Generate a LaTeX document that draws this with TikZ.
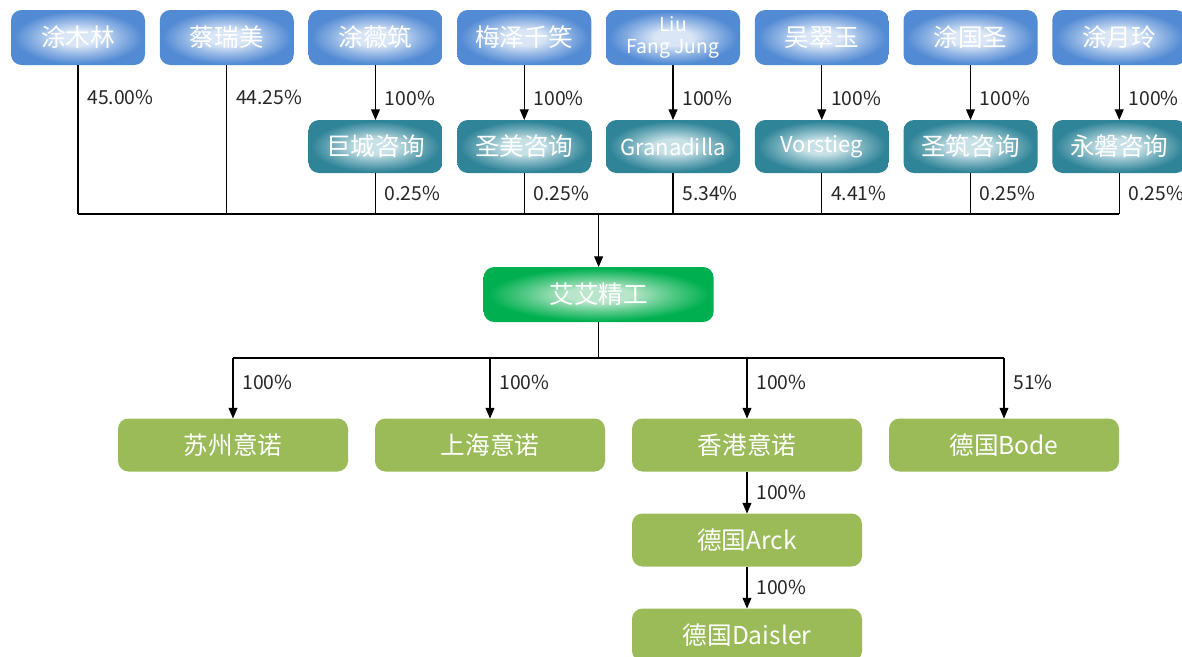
\documentclass[tikz,border=0pt]{standalone}
\usepackage{fontspec}
\setmainfont{Noto Sans CJK SC}
\usepackage{xcolor}
\usepackage{tikz}
\usetikzlibrary{arrows.meta, positioning, calc}
\definecolor{personblue}{RGB}{82,138,212}
\definecolor{personglow}{RGB}{218,230,246}
\colorlet{personmid}{personblue!55!personglow}
\definecolor{holdingteal}{RGB}{47,132,152}
\definecolor{holdingglow}{RGB}{200,225,231}
\colorlet{holdingmid}{holdingteal!55!holdingglow}
\definecolor{companygreen}{RGB}{0,176,80}
\definecolor{companyglow}{RGB}{185,230,202}
\colorlet{companymid}{companygreen!55!companyglow}
\definecolor{subgreen}{RGB}{155,187,89}
\pgfdeclareradialshading{personshade}{\pgfpoint{0bp}{0bp}}{color(0bp)=(personglow); color(7bp)=(personglow); color(16bp)=(personmid); color(24bp)=(personblue); color(75bp)=(personblue)}
\pgfdeclareradialshading{holdingshade}{\pgfpoint{0bp}{0bp}}{color(0bp)=(holdingglow); color(7bp)=(holdingglow); color(16bp)=(holdingmid); color(24bp)=(holdingteal); color(75bp)=(holdingteal)}
\pgfdeclareradialshading{companyshade}{\pgfpoint{0bp}{0bp}}{color(0bp)=(companyglow); color(7bp)=(companyglow); color(16bp)=(companymid); color(24bp)=(companygreen); color(75bp)=(companygreen)}
\tikzstyle{person} = [rectangle, rounded corners=6pt, outer sep=0pt, minimum width=2.68cm, minimum height=1.1cm, align=center, shading=personshade, text=white, font=\fontsize{14}{16}\selectfont]
\tikzstyle{holding} = [rectangle, rounded corners=6pt, outer sep=0pt, minimum width=2.68cm, minimum height=1.06cm, align=center, shading=holdingshade, text=white, font=\fontsize{14}{16}\selectfont]
\tikzstyle{company} = [rectangle, rounded corners=6pt, outer sep=0pt, minimum width=4.6cm, minimum height=1.1cm, align=center, shading=companyshade, text=white, font=\fontsize{14}{16}\selectfont]
\tikzstyle{subsidiary} = [rectangle, rounded corners=6pt, outer sep=0pt, minimum width=4.6cm, minimum height=1.06cm, align=center, fill=subgreen, text=white, font=\fontsize{14}{16}\selectfont]
\tikzstyle{pct} = [right, inner sep=0pt, xshift=5pt, text=black!85, font=\fontsize{11}{13}\selectfont]
\tikzstyle{line} = [line width=0.6pt]
\tikzstyle{arrow} = [line width=0.6pt, ->, >={Triangle[length=6pt, width=5pt]}]
\begin{document}
\begin{tikzpicture}[node distance=1.1cm and 0.295cm]
    \useasboundingbox (0,0) rectangle (23.64,-13.12);
    \node[person] (tuml) at (1.56,-0.75) {涂木林};
    \node[person, right=of tuml] (cairm) {蔡瑞美};
    \node[person, right=of cairm] (tuwz) {涂薇筑};
    \node[person, right=of tuwz] (meizq) {梅泽千笑};
    \node[person, right=of meizq, font=\fontsize{11}{12.5}\selectfont] (liufj) {Liu\\Fang Jung};
    \node[person, right=of liufj] (wucy) {吴翠玉};
    \node[person, right=of wucy] (tugs) {涂国圣};
    \node[person, right=of tugs] (tuyl) {涂月玲};

    \node[holding, below=of tuwz] (jucheng) {巨城咨询};
    \node[holding, below=of meizq] (shengmei) {圣美咨询};
    \node[holding, below=of liufj, font=\fontsize{12.5}{14}\selectfont] (granadilla) {Granadilla};
    \node[holding, below=of wucy, font=\fontsize{12.5}{14}\selectfont] (vorstieg) {Vorstieg};
    \node[holding, below=of tugs] (shengzhu) {圣筑咨询};
    \node[holding, below=of tuyl] (yongpan) {永磐咨询};

    \coordinate (mid) at ($(meizq.south)!0.5!(liufj.south)$);
    \node[company, below=4.04cm of mid] (aiai) {艾艾精工};
    \coordinate (bus) at ($(aiai.north)+(0,1.06)$);
    \coordinate (bus2) at ($(aiai.south)+(0,-0.72)$);

    \node[subsidiary] (suzhou) at (4.66,-8.9) {苏州意诺};
    \node[subsidiary, right=0.54cm of suzhou] (shanghai) {上海意诺};
    \node[subsidiary, right=0.54cm of shanghai] (hongkong) {香港意诺};
    \node[subsidiary, right=0.54cm of hongkong] (bode) {德国Bode};
    \node[subsidiary, below=0.84cm of hongkong] (arck) {德国Arck};
    \node[subsidiary, below=0.84cm of arck] (daisler) {德国Daisler};

    \draw[arrow] (tuwz) -- node[pct, pos=0.6] {100\%} (jucheng);
    \draw[arrow] (meizq) -- node[pct, pos=0.6] {100\%} (shengmei);
    \draw[arrow] (liufj) -- node[pct, pos=0.6] {100\%} (granadilla);
    \draw[arrow] (wucy) -- node[pct, pos=0.6] {100\%} (vorstieg);
    \draw[arrow] (tugs) -- node[pct, pos=0.6] {100\%} (shengzhu);
    \draw[arrow] (tuyl) -- node[pct, pos=0.6] {100\%} (yongpan);

    \draw[line] (tuml) -- node[pct, pos=0.22] {45.00\%} (tuml |- bus);
    \draw[line] (cairm) -- node[pct, pos=0.22] {44.25\%} (cairm |- bus);
    \draw[line] (jucheng) -- node[pct] {0.25\%} (jucheng |- bus);
    \draw[line] (shengmei) -- node[pct] {0.25\%} (shengmei |- bus);
    \draw[line] (granadilla) -- node[pct] {5.34\%} (granadilla |- bus);
    \draw[line] (vorstieg) -- node[pct] {4.41\%} (vorstieg |- bus);
    \draw[line] (shengzhu) -- node[pct] {0.25\%} (shengzhu |- bus);
    \draw[line] (yongpan) -- node[pct] {0.25\%} (yongpan |- bus);
    \draw[line] (tuml |- bus) -- (yongpan |- bus);
    \draw[arrow] (bus) -- (aiai);

    \draw[line] (aiai) -- (bus2);
    \draw[line] (suzhou |- bus2) -- (bode |- bus2);
    \draw[arrow] (suzhou |- bus2) -- node[pct, pos=0.41] {100\%} (suzhou);
    \draw[arrow] (shanghai |- bus2) -- node[pct, pos=0.41] {100\%} (shanghai);
    \draw[arrow] (hongkong |- bus2) -- node[pct, pos=0.41] {100\%} (hongkong);
    \draw[arrow] (bode |- bus2) -- node[pct, pos=0.41] {51\%} (bode);
    \draw[arrow] (hongkong) -- node[pct] {100\%} (arck);
    \draw[arrow] (arck) -- node[pct] {100\%} (daisler);
\end{tikzpicture}
\end{document}
